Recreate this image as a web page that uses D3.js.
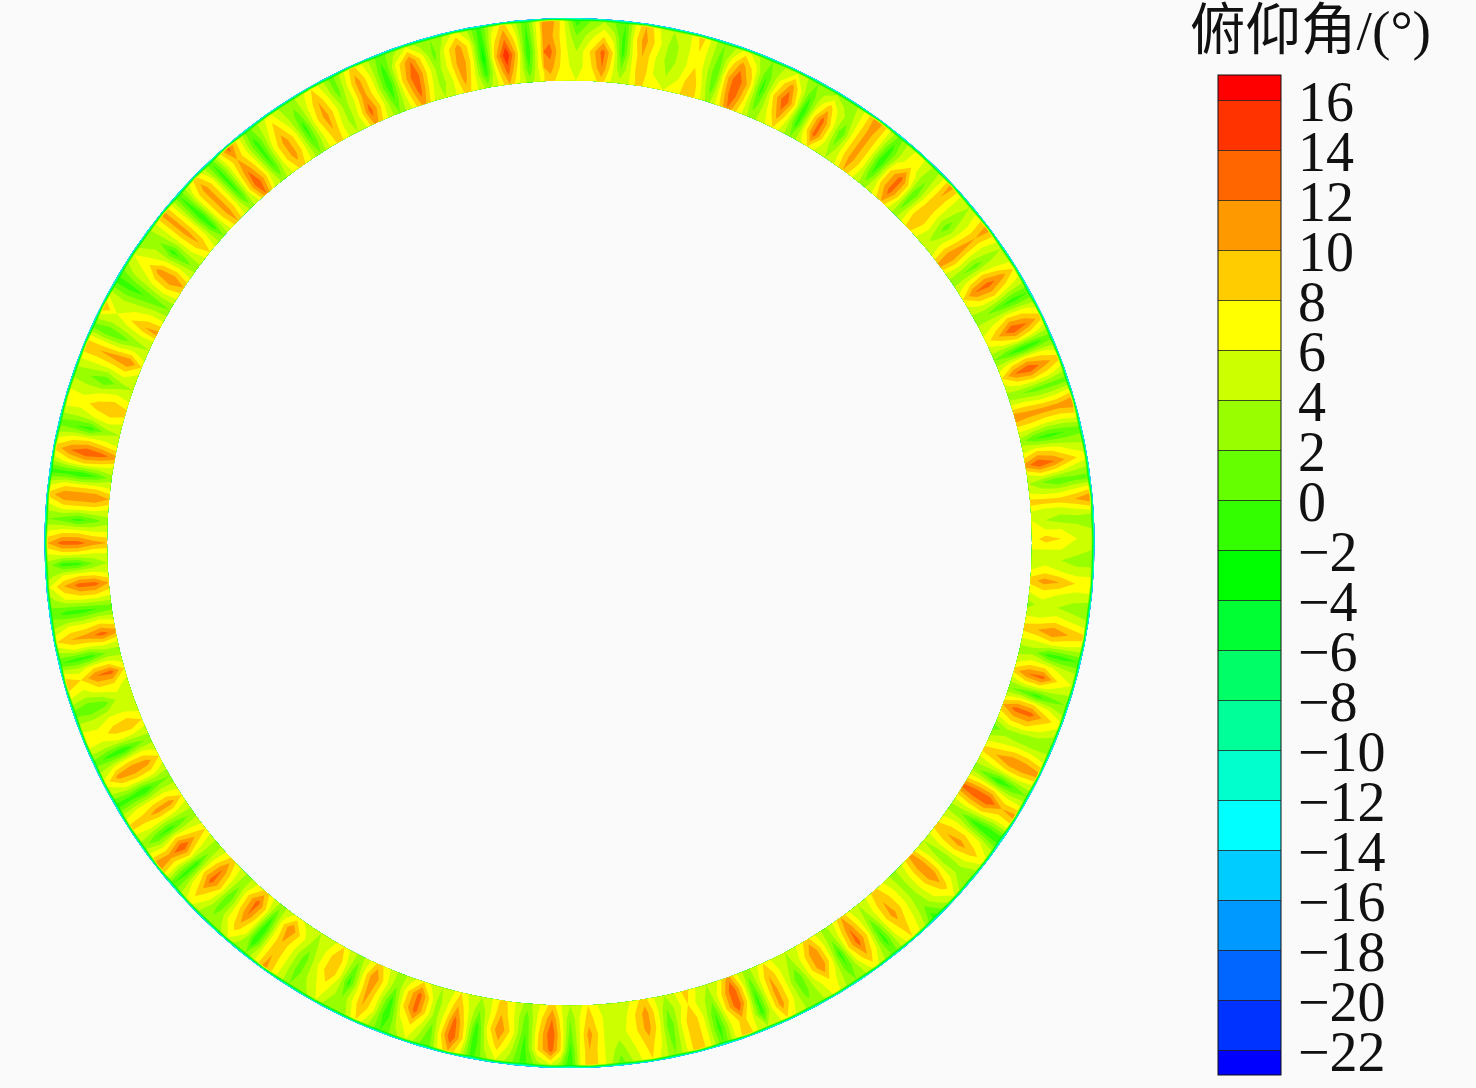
<!DOCTYPE html>
<html>
<head>
<meta charset="utf-8">
<script src="https://cdn.jsdelivr.net/npm/d3@7"></script>
<style>
  html, body { margin: 0; padding: 0; background: #fafafa; }
  svg { display: block; }
</style>
</head>
<body>
<script>
var levels = [-24, -22, -20, -18, -16, -14, -12, -10, -8, -6, -4, -2, 0, 2, 4, 6, 8, 10, 12, 14, 16];
var bandColors = ['#0000ff', '#0033ff', '#0066ff', '#0099ff', '#00ccff', '#00ffff', '#00ffcc', '#00ff99', '#00ff66', '#00ff33',
  '#00ff00', '#33ff00', '#66ff00', '#99ff00', '#ccff00', '#ffff00', '#ffcc00', '#ff9900', '#ff6600', '#ff3300', '#ff0000'];
var tickValues = [16, 14, 12, 10, 8, 6, 4, 2, 0, -2, -4, -6, -8, -10, -12, -14, -16, -18, -20, -22];
var titleText = '俯仰角/(°)';

// clockwise angle of each hot streak, degrees from the top
var bladeAngle = [3.9, 8.5, 14.8, 19.9, 26, 30.9, 36.2, 42.3, 47, 53.1, 58.3, 64.3, 69.2, 74.3, 80.4, 85, 89.5, 94.6, 100.5, 105.9, 110.4, 116.4,
  121.6, 127.6, 132.5, 138.9, 144.1, 149.2, 155.3, 160, 165.6, 170.8, 177.7, 182.1, 188.2, 193.5, 198.3, 204.2, 209.1, 215.8, 220.9, 226.7,
  231.9, 237, 242.6, 247.6, 254.3, 259, 265.1, 270, 275.4, 280.6, 286.2, 292.3, 296.9, 303.5, 309, 314.2, 319.1, 324.7, 330.3, 335.3, 341.7,
  347.3, 352.6, 357.7];

// pitch angle along each streak: inner, low, mid, high, tip
var crestProfile = [
  [9,12,13,8,4],[9,10,10,11,10],[10,10,8,8,9],[12,14,14,11,7],[8,11,14,11,6],[8,13,13,9,4],[10,11,11,11,12],[10,13,13,8,7],
  [9,10,10,10,11],[11,12,11,10,11],[8,12,13,11,8],[7,10,14,12,9],[8,12,14,11,9],[12,11,11,11,12],[11,14,12,9,7],[9,9,9,10,12],
  [7,9,8,6,5],[9,11,10,8,8],[9,10,12,10,9],[9,12,13,8,6],[10,13,13,9,7],[9,10,12,12,11],[13,14,14,10,11],[9,10,11,9,7],
  [11,12,12,9,6],[9,10,11,9,8],[10,12,13,10,7],[9,12,12,8,7],[8,10,11,11,8],[11,14,14,9,10],[9,8,10,10,10],[9,11,11,9,8],
  [8,9,11,10,10],[9,12,14,13,6],[9,10,12,9,6],[8,10,13,14,10],[8,13,13,8,6],[9,12,11,10,8],[8,10,10,7,6],[7,12,10,10,11],
  [9,13,12,9,6],[9,12,13,9,7],[8,10,14,11,12],[8,11,11,9,9],[8,11,12,11,7],[8,10,9,7,8],[8,13,12,8,10],[11,13,11,10,8],
  [10,13,13,10,6],[10,11,13,13,10],[10,12,12,12,9],[11,13,14,12,9],[9,10,9,7,8],[8,12,11,10,10],[11,10,8,6,10],[10,12,11,7,6],
  [8,10,11,11,11],[10,11,11,11,9],[12,14,12,10,13],[9,11,11,9,7],[9,10,11,10,8],[11,13,11,11,9],[11,13,14,12,6],[9,11,12,11,7],
  [10,13,16,12,9],[9,11,13,11,12]
];

// same rows, about 12px to either side of the streak
var shoulderProfile = [
  [6,7,8,5,2],[6,6,6,7,6],[7,6,5,5,5],[7,8,9,7,4],[5,6,8,6,4],[5,7,7,5,3],[6,7,7,7,7],[6,8,8,5,5],
  [6,7,6,6,6],[6,7,6,6,7],[5,7,8,6,5],[5,6,8,7,5],[5,7,8,7,5],[7,7,6,6,7],[6,8,7,5,4],[6,5,5,6,7],
  [6,6,6,5,4],[6,7,6,5,5],[6,6,7,6,5],[5,7,7,5,4],[6,8,8,6,4],[5,6,7,7,6],[7,8,8,6,6],[6,7,7,6,4],
  [6,7,7,6,3],[6,7,7,6,5],[6,7,8,6,4],[6,7,7,5,4],[5,6,6,6,5],[6,8,8,6,6],[6,5,6,6,6],[6,7,7,6,5],
  [5,6,6,6,6],[6,7,8,8,3],[6,6,7,5,3],[5,6,7,8,6],[5,8,8,5,3],[6,7,6,6,4],[5,6,6,5,3],[5,7,6,6,6],
  [6,8,7,6,3],[6,7,8,6,4],[5,6,8,6,7],[5,6,6,6,5],[5,7,7,6,4],[5,6,6,5,5],[5,7,7,5,6],[6,7,6,6,4],
  [6,7,7,6,3],[6,6,7,7,6],[6,7,7,7,5],[6,7,8,7,5],[6,7,6,5,5],[5,7,6,6,6],[6,6,5,4,5],[6,7,6,5,3],
  [5,6,6,6,6],[6,7,7,7,5],[6,8,7,6,7],[6,7,7,5,4],[6,6,7,6,5],[6,7,6,6,5],[6,7,8,7,3],[6,6,7,7,4],
  [6,7,9,7,5],[6,7,7,7,7]
];

// same rows, in the gap after each streak
var troughProfile = [
  [5,2,-1,-1,0],[6,4,3,3,4],[3,1,0,1,2],[3,1,-1,0,2],[2,-1,-2,0,2],[4,2,0,3,4],[3,0,-2,-1,1],[3,1,0,2,3],
  [5,3,1,3,4],[3,2,1,3,4],[3,2,0,-1,0],[2,0,-2,-1,1],[3,2,1,1,1],[3,0,-1,0,1],[4,2,0,1,1],[6,4,3,3,2],
  [5,5,4,3,3],[3,5,4,3,2],[3,3,-1,-1,0],[2,1,-1,1,2],[1,3,2,2,3],[3,1,-2,0,2],[3,2,-1,-2,-2],[4,3,2,3,2],
  [3,3,3,2,-1],[4,3,0,-1,1],[3,2,-1,0,2],[4,3,0,1,3],[3,1,-1,-1,4],[4,3,0,-1,0],[4,2,0,1,2],[5,4,5,3,1],
  [4,2,1,-1,-2],[3,1,0,-1,-1],[4,2,-1,-2,-1],[4,3,3,1,0],[3,2,-1,-2,0],[3,1,-1,2,3],[4,3,1,1,2],[3,0,-2,-2,2],
  [3,2,0,1,3],[3,2,-1,-1,0],[3,1,-1,0,3],[2,1,-2,-1,-1],[3,1,-2,-1,1],[4,5,1,0,1],[3,2,-1,-1,0],[1,0,-1,-1,1],
  [4,2,-1,-1,3],[3,1,-1,1,2],[3,0,-2,-1,-1],[4,3,-1,0,1],[4,3,0,2,3],[4,3,1,0,1],[2,1,0,-1,-1],[3,1,-1,2,3],
  [2,-1,-2,-1,0],[3,0,-1,-1,0],[3,0,-1,-1,1],[2,0,-1,1,3],[4,3,3,1,1],[2,0,-2,-1,1],[4,3,3,1,2],[3,-1,-3,-2,-1],
  [3,0,-2,-1,0],[6,5,4,2,-1]
];

var rimValue = -13;                               // thin cyan edge on the outside
var rowFraction = [0, 0.22, 0.47, 0.72, 0.95, 1]; // inner to outer, share of ring width

var width = 1476, height = 1088;
var cx = 569.5, cy = 543, innerR = 462.5, outerR = 525;

var svg = d3.select('body').append('svg')
  .attr('width', width)
  .attr('height', height)
  .style('background', '#fafafa');

// build the theta / radius grid, wrapping four columns each way
var columns = [];
bladeAngle.forEach(function(a, i) {
  var next = i + 1 < bladeAngle.length ? bladeAngle[i + 1] : bladeAngle[0] + 360;
  var nextShoulder = shoulderProfile[(i + 1) % bladeAngle.length];
  var gap = next - a;
  columns.push({ angle: a, rows: crestProfile[i].concat(rimValue) });
  columns.push({ angle: a + gap * 0.25, rows: shoulderProfile[i].concat(rimValue) });
  columns.push({ angle: a + gap * 0.5, rows: troughProfile[i].concat(rimValue) });
  columns.push({ angle: a + gap * 0.75, rows: nextShoulder.concat(rimValue) });
});
var wrapped = columns.slice(-4).map(function(c) { return { angle: c.angle - 360, rows: c.rows }; })
  .concat(columns)
  .concat(columns.slice(0, 4).map(function(c) { return { angle: c.angle + 360, rows: c.rows }; }));

var nx = wrapped.length, ny = rowFraction.length;
var values = new Array(nx * ny);
wrapped.forEach(function(c, i) {
  c.rows.forEach(function(v, j) { values[j * nx + i] = v; });
});

var angleScale = d3.scaleLinear()
  .domain(wrapped.map(function(c, i) { return i + 0.5; }))
  .range(wrapped.map(function(c) { return c.angle * Math.PI / 180; }));
var radiusScale = d3.scaleLinear()
  .domain(rowFraction.map(function(f, j) { return j + 0.5; }))
  .range(rowFraction.map(function(f) { return innerR + f * (outerR - innerR); }));

var polar = d3.geoTransform({
  point: function(x, y) {
    var a = angleScale(x), r = radiusScale(y);
    this.stream.point(cx + r * Math.sin(a), cy - r * Math.cos(a));
  }
});
var path = d3.geoPath(polar);

var ring = d3.arc()
  .innerRadius(innerR).outerRadius(outerR)
  .startAngle(0).endAngle(2 * Math.PI);

svg.append('clipPath').attr('id', 'ring-clip')
  .append('path')
  .attr('transform', 'translate(' + cx + ',' + cy + ')')
  .attr('d', ring());

var bands = d3.contours().size([nx, ny]).thresholds(levels)(values);

var field = svg.append('g').attr('clip-path', 'url(#ring-clip)');
field.selectAll('path')
  .data(bands)
  .enter().append('path')
  .attr('d', path)
  .attr('fill', function(d, i) { return bandColors[i]; });

// legend
var legendScale = d3.scaleLinear().domain([16, -22]).range([100, 1050]);
var barX = 1218, barW = 63;
var legend = svg.append('g').attr('transform', 'translate(' + barX + ',0)');

legend.selectAll('rect.band')
  .data(levels)
  .enter().append('rect')
  .attr('class', 'band')
  .attr('x', 0)
  .attr('width', barW)
  .attr('y', function(d) { return legendScale(Math.min(d + 2, 17)); })
  .attr('height', function(d) { return legendScale(Math.max(d, -23)) - legendScale(Math.min(d + 2, 17)); })
  .attr('fill', function(d, i) { return bandColors[i]; });

var axis = d3.axisRight(legendScale)
  .tickValues(tickValues)
  .tickSize(0)
  .tickPadding(0)
  .tickFormat(d3.format('d'));

var axisG = svg.append('g')
  .attr('transform', 'translate(' + barX + ',0)')
  .call(axis);
axisG.select('.domain').remove();
axisG.selectAll('.tick line')
  .attr('x2', barW)
  .attr('stroke', '#222')
  .attr('stroke-width', 0.8);
axisG.selectAll('.tick text')
  .attr('x', 1298 - barX)
  .attr('dy', '0.36em')
  .attr('text-anchor', 'start')
  .attr('fill', '#111')
  .style('font-family', '"Liberation Serif", serif')
  .style('font-size', '56px');

legend.append('rect')
  .attr('x', 0)
  .attr('y', legendScale(17))
  .attr('width', barW)
  .attr('height', legendScale(-23) - legendScale(17))
  .attr('fill', 'none')
  .attr('stroke', '#111')
  .attr('stroke-width', 1);

svg.append('text')
  .attr('x', 1190)
  .attr('y', 49)
  .attr('fill', '#111')
  .style('font-family', '"Liberation Serif", "Noto Sans CJK SC", serif')
  .style('font-size', '55.5px')
  .text(titleText);
</script>
</body>
</html>
